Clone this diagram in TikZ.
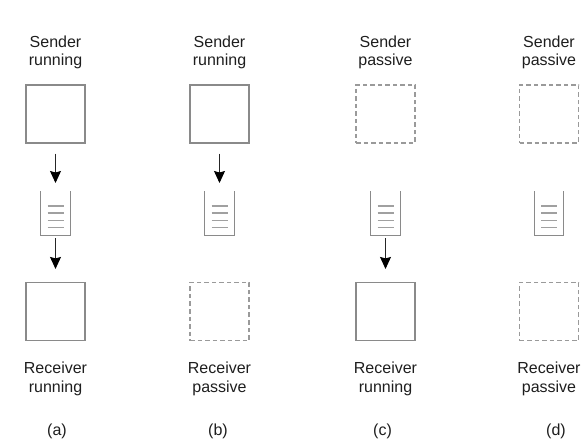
\documentclass[tikz,border=0pt]{standalone}
\usepackage{fontspec}
\setmainfont{Liberation Sans}
\usetikzlibrary{arrows.meta}
\definecolor{boxgray}{HTML}{8A8A8A}
\definecolor{dashgray}{HTML}{9A9A9A}
\definecolor{qgray}{HTML}{A0A0A0}
\definecolor{txt}{HTML}{1E1E1E}
\begin{document}
\begin{tikzpicture}[x=1pt,y=-1pt,
  livebox/.style={draw=boxgray, line width=1.1pt, minimum width=59pt, minimum height=58pt, inner sep=0pt},
  idlebox/.style={livebox, draw=dashgray, dash pattern=on 4.5pt off 3pt},
  queue/.style={minimum width=29pt, minimum height=43.3pt, inner sep=0pt},
  qwall/.style={draw=boxgray, line width=1.1pt},
  qline/.style={draw=qgray, line width=1.4pt},
  lbl/.style={font=\fontsize{16pt}{18.3pt}\selectfont, text=txt, align=center, inner sep=0pt},
  flow/.style={draw=black!85, line width=0.9pt, -{Stealth[length=12pt,width=11pt,inset=1.5pt,color=black,fill=black]}}
]
\useasboundingbox (0,0) rectangle (583,443);

% one column per case: sender process, message queue, receiver process
\foreach \n/\x/\st/\rt/\sl/\rl/\tx in {
    a/55.5/livebox/livebox/running/running/57,
    b/219.5/livebox/idlebox/running/passive/218,
    c/385.5/idlebox/livebox/passive/running/382.5,
    d/549/idlebox/idlebox/passive/passive/556}{
  \node[lbl] (st\n) at (\x,52.5) {Sender\\\sl};
  \node[\st] (s\n) at (\x,114) {};
  \node[queue] (q\n) at (\x,213.35) {};
  \draw[qwall] (q\n.north west) -- (q\n.south west) -- (q\n.south east) -- (q\n.north east);
  \foreach \yy in {206,213,220.5,227.5}
    \draw[qline] (\x-8,\yy) -- (\x+8,\yy);
  \node[\rt] (r\n) at (\x,311.5) {};
  \node[lbl] (rt\n) at (\x,379) {Receiver\\\rl};
  \node[lbl] (tag\n) at (\tx,431) {(\n)};
}

% message flow
\draw[flow, shorten <=10pt, shorten >=8.5pt] (sa) -- (qa);
\draw[flow, shorten <=3pt, shorten >=13pt] (qa) -- (ra);
\draw[flow, shorten <=10pt, shorten >=8.5pt] (sb) -- (qb);
\draw[flow, shorten <=3pt, shorten >=13pt] (qc) -- (rc);
\end{tikzpicture}
\end{document}
